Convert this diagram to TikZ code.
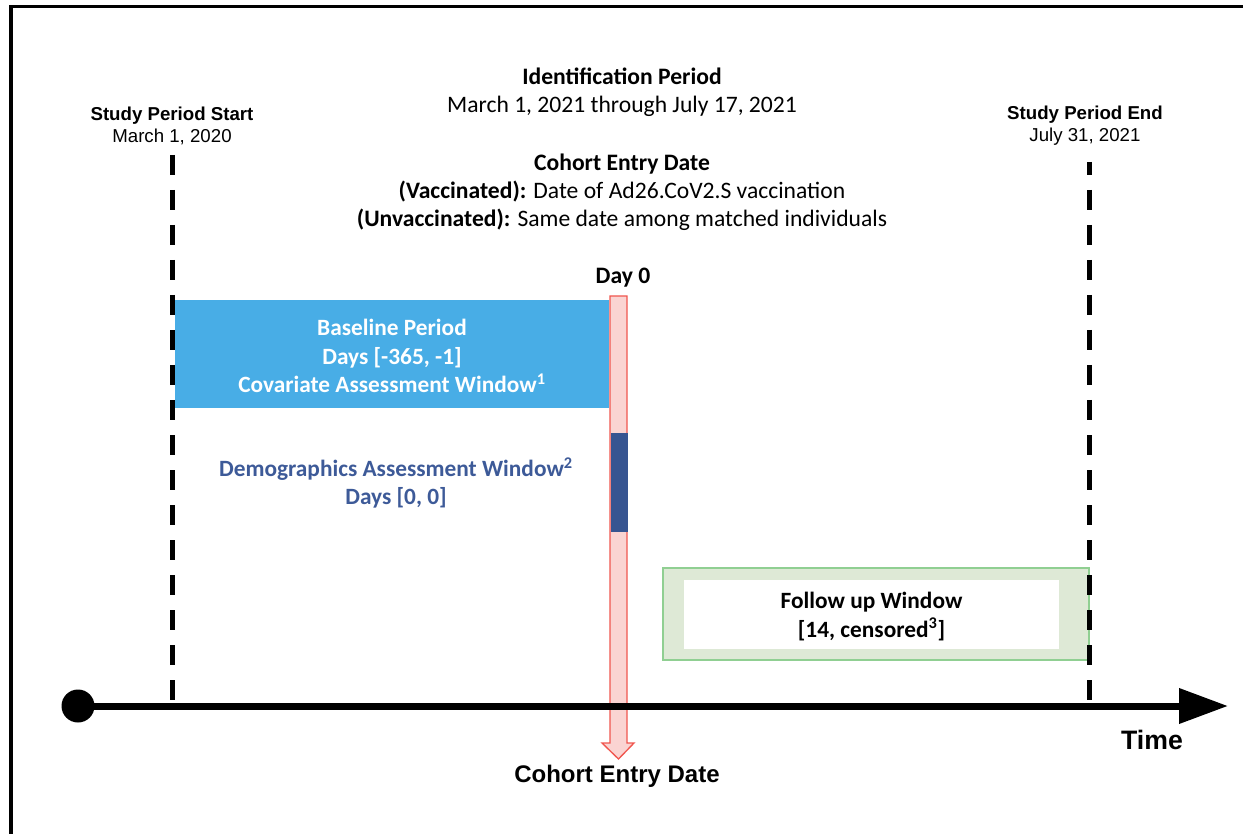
\documentclass[tikz,border=0pt]{standalone}
\usepackage{fontspec}
\setmainfont{Carlito}
\newfontfamily\arialfont{Liberation Sans}
\usetikzlibrary{arrows.meta}
\definecolor{baseblue}{HTML}{48ADE6}
\definecolor{demoblue}{HTML}{375591}
\definecolor{demotext}{HTML}{3D5A98}
\definecolor{daypink}{HTML}{FAD4D2}
\definecolor{dayred}{HTML}{F0564E}
\definecolor{followfill}{HTML}{DEE9D6}
\definecolor{followline}{HTML}{90CF92}
\begin{document}
\begin{tikzpicture}[x = 0.75pt, y = -0.75pt,
	caltxt/.style = {align = center, inner sep = 0pt, font = \fontsize{17.7}{21}\selectfont},
	arialtxt/.style = {align = center, inner sep = 0pt, font = \arialfont\fontsize{14}{16.5}\selectfont},
	dashline/.style = {line width = 3.75pt, dash pattern = on 15pt off 11.25pt},
	win/.style = {inner sep = 0pt, align = center}]
	\useasboundingbox (0, 0) rectangle (1243, 834);
	
	% Frame
	\draw[line width = 2.6pt] (11, 840) -- (11, 6.5) -- (1250, 6.5);
	
	% Windows
	\node[win, fill = baseblue, minimum width = 325.5pt, minimum height = 81pt] (baseline) at (392, 354) {};
	\node[win, text = white, font = \bfseries\fontsize{17.5}{21.5}\selectfont] (baselbl) at (392, 356) {Baseline Period\\Days [-365, -1]\\Covariate Assessment Window\textsuperscript{1}};
	\node[win, fill = followfill, draw = followline, line width = 1pt, minimum width = 319.5pt, minimum height = 69pt] (followout) at (876, 614) {};
	\node[win, fill = white, minimum width = 281.25pt, minimum height = 51.75pt] (follow) at (871.5, 614) {};
	\node[win, font = \bfseries\fontsize{17.5}{21.5}\selectfont] (followlbl) at (871.5, 616.5) {Follow up Window\\{}[14, censored\textsuperscript{3}]};
	
	% Day 0 arrow
	\filldraw[fill = daypink, draw = dayred, line width = 1pt] (610, 296) -- (627, 296) -- (627, 743) -- (634, 743) -- (618.5, 759) -- (602, 743) -- (610, 743) -- cycle;
	\node[win, fill = demoblue, minimum width = 12.75pt, minimum height = 74.25pt] (daybar) at (619.5, 482.5) {};
	\node[win, text = demotext, font = \bfseries\fontsize{17.5}{21}\selectfont] (demo) at (396, 483) {Demographics Assessment Window\textsuperscript{2}\\Days [0, 0]};
	
	% Time axis
	\coordinate (tail) at (78, 706);
	\coordinate (head) at (1228, 706);
	\coordinate (starttop) at (172, 155);
	\coordinate (startaxis) at (172, 706);
	\coordinate (endtop) at (1089, 162);
	\coordinate (endaxis) at (1089, 706);
	\draw[line width = 5.25pt, -{Triangle[length = 36.75pt, width = 25.5pt]}] (tail) -- (head);
	\fill (tail) circle[radius = 16.5];
	\draw[dashline] (starttop) -- (startaxis);
	\draw[dashline, dash phase = 5.25pt] (endtop) -- (endaxis);
	
	% Labels
	\node[arialtxt] (startlbl) at (172, 126) {\textbf{Study Period Start}\\March 1, 2020};
	\node[arialtxt] (endlbl) at (1085, 126) {\textbf{Study Period End}\\July 31, 2021};
	\node[caltxt] (ident) at (622, 92) {\textbf{Identification Period}\\March 1, 2021 through July 17, 2021};
	\node[caltxt] (entry) at (622, 192.5) {\textbf{Cohort Entry Date}\\\textbf{(Vaccinated):} Date of Ad26.CoV2.S vaccination\\\textbf{(Unvaccinated):} Same date among matched individuals};
	\node[caltxt, font = \bfseries\fontsize{17.7}{21}\selectfont] (day0) at (623, 277.5) {Day 0};
	\node[inner sep = 0pt, font = \arialfont\bfseries\fontsize{18}{21}\selectfont] (entrylbl) at (617, 776) {Cohort Entry Date};
	\node[inner sep = 0pt, font = \arialfont\bfseries\fontsize{20}{22}\selectfont] (timelbl) at (1152, 740) {Time};
\end{tikzpicture}
\end{document}
